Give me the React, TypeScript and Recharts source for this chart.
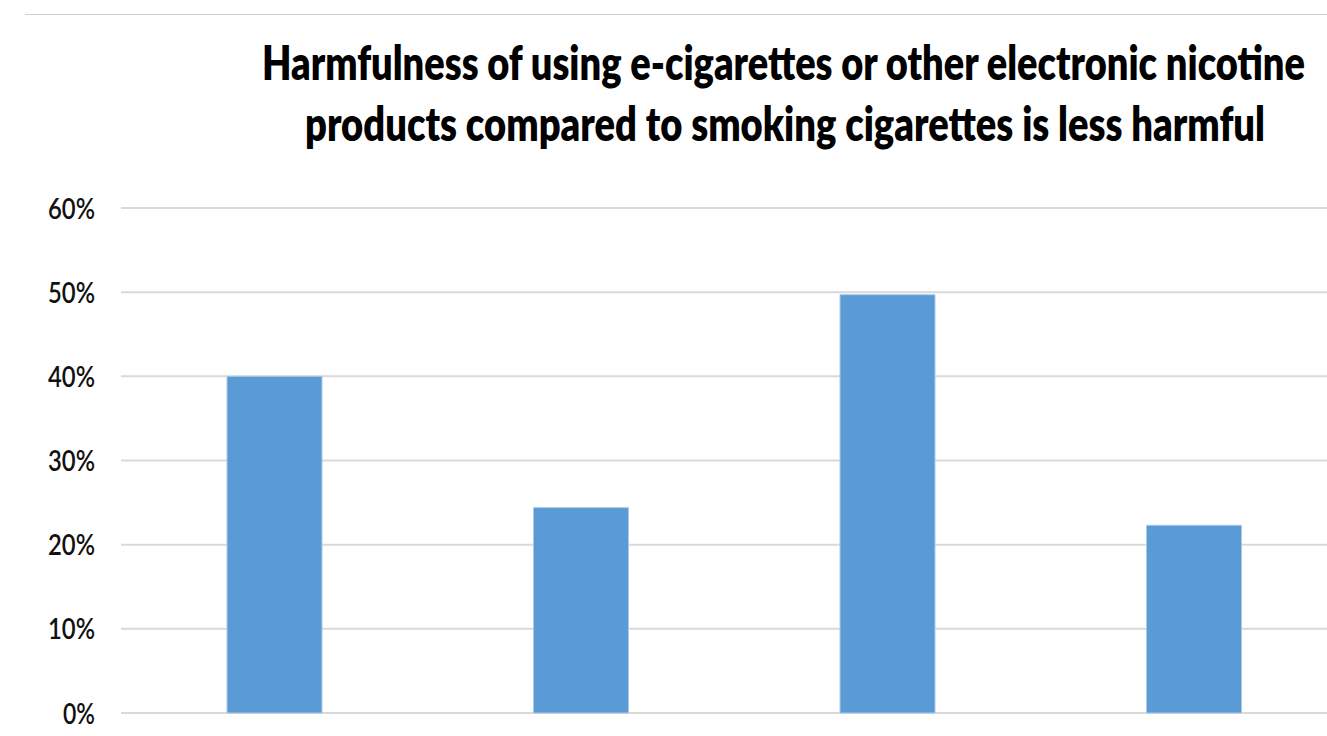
import { BarChart, Bar, XAxis, YAxis, CartesianGrid } from "recharts";

// Share answering "less harmful", by respondent group
const groups = ["Group 1", "Group 2", "Group 3", "Group 4"];
const lessHarmful = [0.40, 0.244, 0.497, 0.223];
const yTicks = [0, 0.1, 0.2, 0.3, 0.4, 0.5, 0.6];

const titleLines = [
  "Harmfulness of using e-cigarettes or other electronic nicotine",
  "products compared to smoking cigarettes is less harmful",
];

const data = groups.map((g, i) => ({ group: g, value: lessHarmful[i] }));

const FONT = "Lato, 'Open Sans', sans-serif";

const PercentTick = (props: any) => {
  const { y, payload } = props;
  const label = `${Math.round(payload.value * 100)}%`;
  return (
    <text
      x={95}
      y={y + 10.5}
      textAnchor="end"
      fontFamily={FONT}
      fontSize={29}
      fontWeight={600}
      fill="#111"
      textLength={label.length === 2 ? 32 : 47}
      lengthAdjust="spacingAndGlyphs"
    >
      {label}
    </text>
  );
};

// tall, narrow title lines: set at a smaller size and stretched vertically
const TitleLine = ({ x, y, width, text }: { x: number; y: number; width: number; text: string }) => (
  <g transform={`translate(${x},${y}) scale(1,1.34)`}>
    <text
      x={0}
      y={0}
      fontFamily={FONT}
      fontWeight={800}
      fontSize={35}
      fill="#000"
      textLength={width}
      lengthAdjust="spacingAndGlyphs"
    >
      {text}
    </text>
  </g>
);

export default function App() {
  return (
    <div
      style={{
        position: "absolute",
        left: 0,
        top: 0,
        width: 1327,
        height: 736,
        overflow: "hidden",
        background: "#fff",
      }}
    >
      <svg width={1327} height={736} style={{ position: "absolute", left: 0, top: 0 }}>
        <line x1={25} y1={14.5} x2={1327} y2={14.5} stroke="#cfcfcf" strokeWidth={1} />
        <TitleLine x={262} y={80} width={1043} text={titleLines[0]} />
        <TitleLine x={305} y={141} width={960} text={titleLines[1]} />
      </svg>
      <div style={{ position: "absolute", left: 0, top: 0 }}>
        <BarChart
          width={1360}
          height={736}
          data={data}
          margin={{ top: 208, right: 13, bottom: 23, left: 0 }}
          barCategoryGap={0}
        >
          <CartesianGrid vertical={false} stroke="#d9d9d9" strokeWidth={2} />
          <XAxis dataKey="group" hide />
          <YAxis
            width={121}
            domain={[0, 0.6]}
            ticks={yTicks}
            axisLine={false}
            tickLine={false}
            tick={<PercentTick />}
          />
          <Bar
            dataKey="value"
            fill="#5b9bd5"
            stroke="#a9c9ea"
            strokeWidth={1}
            barSize={95}
            isAnimationActive={false}
          />
        </BarChart>
      </div>
    </div>
  );
}
